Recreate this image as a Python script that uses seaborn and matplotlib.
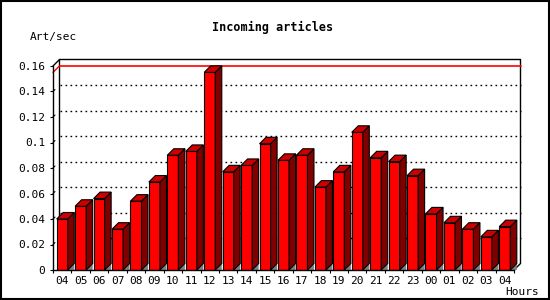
import numpy as np
import pandas as pd
import seaborn as sns
import matplotlib
matplotlib.use("Agg")
import matplotlib.pyplot as plt
from matplotlib.patches import Polygon, Rectangle
from matplotlib.ticker import FuncFormatter

# articles per second, hour by hour
hours = ["04", "05", "06", "07", "08", "09", "10", "11", "12", "13", "14", "15", "16",
         "17", "18", "19", "20", "21", "22", "23", "00", "01", "02", "03", "04"]
rates = [0.040, 0.050, 0.056, 0.032, 0.054, 0.069, 0.090, 0.093, 0.155, 0.077, 0.082,
         0.099, 0.086, 0.090, 0.065, 0.077, 0.108, 0.088, 0.085, 0.074, 0.044, 0.037,
         0.032, 0.026, 0.034]
yticks = [0, 0.02, 0.04, 0.06, 0.08, 0.1, 0.12, 0.14, 0.16]

sns.set_style("white")
plt.rcParams['font.family'] = ['DejaVu Sans Mono', 'DejaVu Sans']
plt.rcParams['text.color'] = 'black'
plt.rcParams['xtick.color'] = 'black'
plt.rcParams['ytick.color'] = 'black'

W, H = 550, 300
fig = plt.figure(figsize=(W / 100, H / 100), dpi=100)
ax = fig.add_axes([53 / W, 30 / H, 461 / W, 204 / H])

df = pd.DataFrame({"slot": range(len(hours)), "rate": rates})
sns.barplot(data=df, x="slot", y="rate", color="#ff0000", saturation=1,
            edgecolor="black", linewidth=0.8, width=0.6, ax=ax, zorder=3)

n = len(hours)
ax.set_xlim(-0.5, n - 0.5)
ax.set_ylim(0, 0.16)

# 3d depth in data units (about 6.5 px each way)
depth = 6.5
dx = depth / (461 / n)
dy = depth / (204 / 0.16)

# back plane frame and grid
x0, x1 = -0.5, n - 0.5
ax.plot([x0 + dx, x0 + dx, x1 + dx, x1 + dx, x1], [dy, 0.16 + dy, 0.16 + dy, dy, 0],
        color="black", lw=1, clip_on=False, zorder=1)
ax.plot([x0, x0 + dx], [0.16, 0.16 + dy], color="black", lw=1, clip_on=False, zorder=1)
for v in yticks[1:-1]:
    ax.plot([x0 + dx, x1 + dx], [v + dy, v + dy], color="black", lw=1,
            ls=(0, (1.2, 2.4)), clip_on=False, zorder=1)
    ax.plot([x0, x0 + 0.3 * dx], [v, v + 0.3 * dy], color="black", lw=0.8,
            clip_on=False, zorder=1)

# max line
top = max(rates)
ax.plot([x0 + dx, x1 + dx], [top + dy, top + dy], color="#ff0000", lw=1.2,
        clip_on=False, zorder=2)
ax.plot([x0, x0 + dx], [top, top + dy], color="#ff0000", lw=1, clip_on=False, zorder=2)

# side, top and floor shadow of each bar
for p in ax.patches[:n]:
    bx, bw, bh = p.get_x(), p.get_width(), p.get_height()
    r = bx + bw
    ax.add_patch(Polygon([[r, 0], [r + dx, dy], [r + dx, 0]], closed=True,
                         facecolor="#808080", edgecolor="none", zorder=2, clip_on=False))
    ax.add_patch(Polygon([[r, 0], [r + dx, dy], [r + dx, bh + dy], [r, bh]], closed=True,
                         facecolor="#800000", edgecolor="black", lw=0.8, zorder=3,
                         clip_on=False))
    ax.add_patch(Polygon([[bx, bh], [bx + dx, bh + dy], [r + dx, bh + dy], [r, bh]],
                         closed=True, facecolor="#cc0000", edgecolor="black", lw=0.8,
                         zorder=3, clip_on=False))

sns.despine(ax=ax, top=True, right=True)
for s in ["left", "bottom"]:
    ax.spines[s].set_linewidth(1)
    ax.spines[s].set_color("black")
    ax.spines[s].set_zorder(4)

ax.set_xticks(np.arange(n + 1) - 0.5)
ax.set_xticklabels([])
ax.set_xticks(np.arange(n), minor=True)
ax.set_xticklabels(hours, minor=True)
ax.tick_params(axis="x", which="major", direction="out", length=2.5, width=0.8,
               color="black", bottom=True)
ax.tick_params(axis="x", which="minor", length=0, pad=4, labelsize=8, labelcolor="black")
ax.set_yticks(yticks)
ax.yaxis.set_major_formatter(FuncFormatter(lambda v, _: f"{v:g}"))
ax.tick_params(axis="y", direction="out", length=2.5, width=0.8, color="black", left=True,
               pad=3, labelsize=8, labelcolor="black")
ax.set_xlabel("")
ax.set_ylabel("")
ax.grid(False)

fig.text(273 / W, 1 - 27 / H, "Incoming articles", ha="center", va="center",
         fontsize=8.5, fontweight="bold", color="black")
fig.text(30 / W, 1 - 37 / H, "Art/sec", ha="left", va="center", fontsize=8, color="black")
fig.text(505 / W, 1 - 292 / H, "Hours", ha="left", va="center", fontsize=8, color="black")

fig.patches.append(Rectangle((1 / W, 1 / H), 548 / W, 298 / H, transform=fig.transFigure,
                             fill=False, edgecolor="black", lw=1.5))

fig.savefig("out.png", dpi=100)
